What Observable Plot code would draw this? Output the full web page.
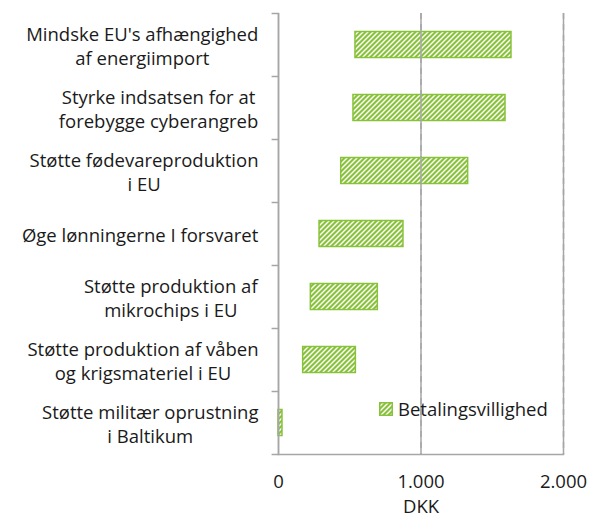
<!DOCTYPE html>
<html>
<head>
<meta charset="utf-8">
<script src="https://cdn.jsdelivr.net/npm/d3@7"></script>
<script src="https://cdn.jsdelivr.net/npm/@observablehq/plot@0.6"></script>
<style>
  html, body { margin: 0; padding: 0; background: #fff; }
  #wrap { position: relative; width: 590px; height: 518px; font-family: "Open Sans", sans-serif; }
  #legend { position: absolute; left: 379px; top: 396px; display: flex; align-items: center; font-size: 18.5px; line-height: 25px; color: #1a1a1a; }
  #legend svg { margin-right: 5px; }
</style>
</head>
<body>
<div id="wrap"><div id="chart"></div>
<div id="legend"><svg width="14" height="14"><defs><pattern id="hatchL" patternUnits="userSpaceOnUse" width="5" height="5"><rect width="5" height="5" fill="#88c23a"/><path d="M0,4L4,0L5,0L5,1L1,5L0,5Z M0,0L1,0L0,1Z M5,4L5,5L4,5Z" fill="#fff"/></pattern></defs><rect x="0.75" y="0.75" width="12.5" height="12.5" fill="url(#hatchL)" stroke="#88c23a" stroke-width="1.5"/></svg><span>Betalingsvillighed</span></div>
</div>
<script>
const categories = [
  "Mindske EU's afhængighed\naf energiimport",
  "Styrke indsatsen for at\nforebygge cyberangreb",
  "Støtte fødevareproduktion\ni EU",
  "Øge lønningerne I forsvaret",
  "Støtte produktion af\nmikrochips i EU",
  "Støtte produktion af våben\nog krigsmateriel i EU",
  "Støtte militær oprustning\ni Baltikum"
];
const lowValues  = [540, 526, 440, 288, 227, 173, 0];
const highValues = [1635, 1593, 1331, 877, 697, 543, 28];
const xTicks = [0, 1000, 2000];
const seriesName = "Betalingsvillighed";

const data = categories.map((c, i) => ({cat: c, lo: lowValues[i], hi: highValues[i]}));
const green = "#88c23a";
const gray = "#a6a6a6";
const fs = 18.5;
const fmt = d => d3.format(",")(d).replace(/,/g, ".");

const defs = () => {
  const g = document.createElementNS("http://www.w3.org/2000/svg", "defs");
  g.innerHTML = `<pattern id="hatch" patternUnits="userSpaceOnUse" width="5" height="5"><rect width="5" height="5" fill="${green}"/><path d="M0,4L4,0L5,0L5,1L1,5L0,5Z M0,0L1,0L0,1Z M5,4L5,5L4,5Z" fill="#fff"/></pattern>`;
  return g;
};

const chart = Plot.plot({
  width: 590,
  height: 518,
  marginLeft: 278,
  marginRight: 27,
  marginTop: 13,
  marginBottom: 64,
  style: {fontFamily: "Open Sans, sans-serif", fontSize: fs + "px", color: "#1a1a1a", background: "#fff"},
  x: {domain: [0, 2000], label: null, axis: null},
  y: {domain: categories, padding: 0, label: null, axis: null},
  marks: [
    defs,
    Plot.ruleX([1000, 2000], {stroke: gray, strokeWidth: 1.5, strokeDasharray: "6,5"}),
    Plot.barX(data, {y: "cat", x1: "lo", x2: "hi", fill: "url(#hatch)", stroke: green, strokeWidth: 1.5, insetTop: 18.5, insetBottom: 18.5}),
    Plot.frame({anchor: "left", stroke: gray, strokeWidth: 1.5}),
    Plot.frame({anchor: "bottom", stroke: gray, strokeWidth: 1.5}),
    Plot.ruleY(categories, {y: d => d, x1: -45, x2: 0, dy: 31.5, stroke: gray, strokeWidth: 1.5}),
    Plot.ruleY([categories[0]], {y: d => d, x1: -45, x2: 0, dy: -31.5, stroke: gray, strokeWidth: 1.5}),
    Plot.tickX(xTicks, {x: d => d, y1: 454, y2: 460, stroke: gray, strokeWidth: 1.5}),
    Plot.text(xTicks, {x: d => d, frameAnchor: "bottom", dy: 28, text: fmt, fill: "#1a1a1a", fontSize: fs, lineAnchor: "middle"}),
    Plot.text(["DKK"], {frameAnchor: "bottom", dy: 53, text: d => d, fill: "#1a1a1a", fontSize: fs, lineAnchor: "middle"}),
    Plot.text(categories, {y: d => d, frameAnchor: "left", dx: -20, textAnchor: "end", text: d => d, fill: "#1a1a1a", fontSize: fs, lineHeight: 1.3, lineAnchor: "middle"})
  ]
});
document.getElementById("chart").appendChild(chart);
// center lines of each label within its block; block stays right-aligned next to the axis
const flat = new Set(categories.map(c => c.replace(/\n/g, "")));
const labelTexts = [...chart.querySelectorAll("text")].filter(t => flat.has(t.textContent));
labelTexts.forEach(t => {
  const w = t.getBBox().width;
  const spans = [...t.querySelectorAll("tspan")];
  t.setAttribute("text-anchor", "middle");
  if (spans.length) {
    spans.forEach(s => { s.setAttribute("text-anchor", "middle"); s.setAttribute("x", -w / 2); });
  } else {
    t.setAttribute("x", -w / 2);
  }
});
</script>
</body>
</html>
